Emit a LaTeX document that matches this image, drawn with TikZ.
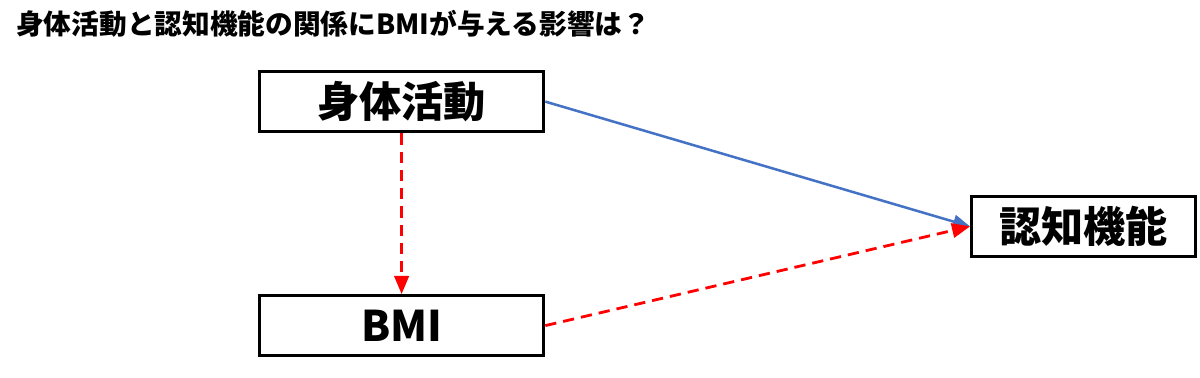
\documentclass[tikz,border=0pt]{standalone}
\usepackage{fontspec}
\setmainfont{Noto Sans CJK JP}
\usepackage{tikz}
\usetikzlibrary{arrows}
\definecolor{linkblue}{HTML}{4472C4}

\begin{document}
\begin{tikzpicture}[>=triangle 45,line width=1.8pt,
 main node/.style={rectangle,draw,line width=2.4pt,minimum height=1.5cm,font=\fontsize{30}{32}\selectfont\bfseries},
 dash link/.style={->,red,line width=2pt,dash pattern=on 8pt off 5pt}]
  \useasboundingbox (0,0) rectangle (30,-9.425);
%title
  \node[anchor=west,inner sep=0pt,font=\fontsize{19.7}{21}\selectfont\bfseries] (title) at (0.375,-0.6) {身体活動と認知機能の関係にBMIが与える影響は？};
%1
  \node[main node,minimum width=7.1cm] (act) at (10.04,-2.54) {身体活動};
%2
  \node[main node,minimum width=7.1cm] (bmi) at (10.04,-8.14) {BMI};
%3
  \node[main node,minimum width=5.6cm] (cog) at (27.09,-5.66) {認知機能};
%paths
  \draw[->,linkblue] (act.east) -- (cog.west);
  \draw[dash link] (act.south) -- (bmi.north);
  \draw[dash link] (bmi.east) -- (cog.west);
\end{tikzpicture}
\end{document}
